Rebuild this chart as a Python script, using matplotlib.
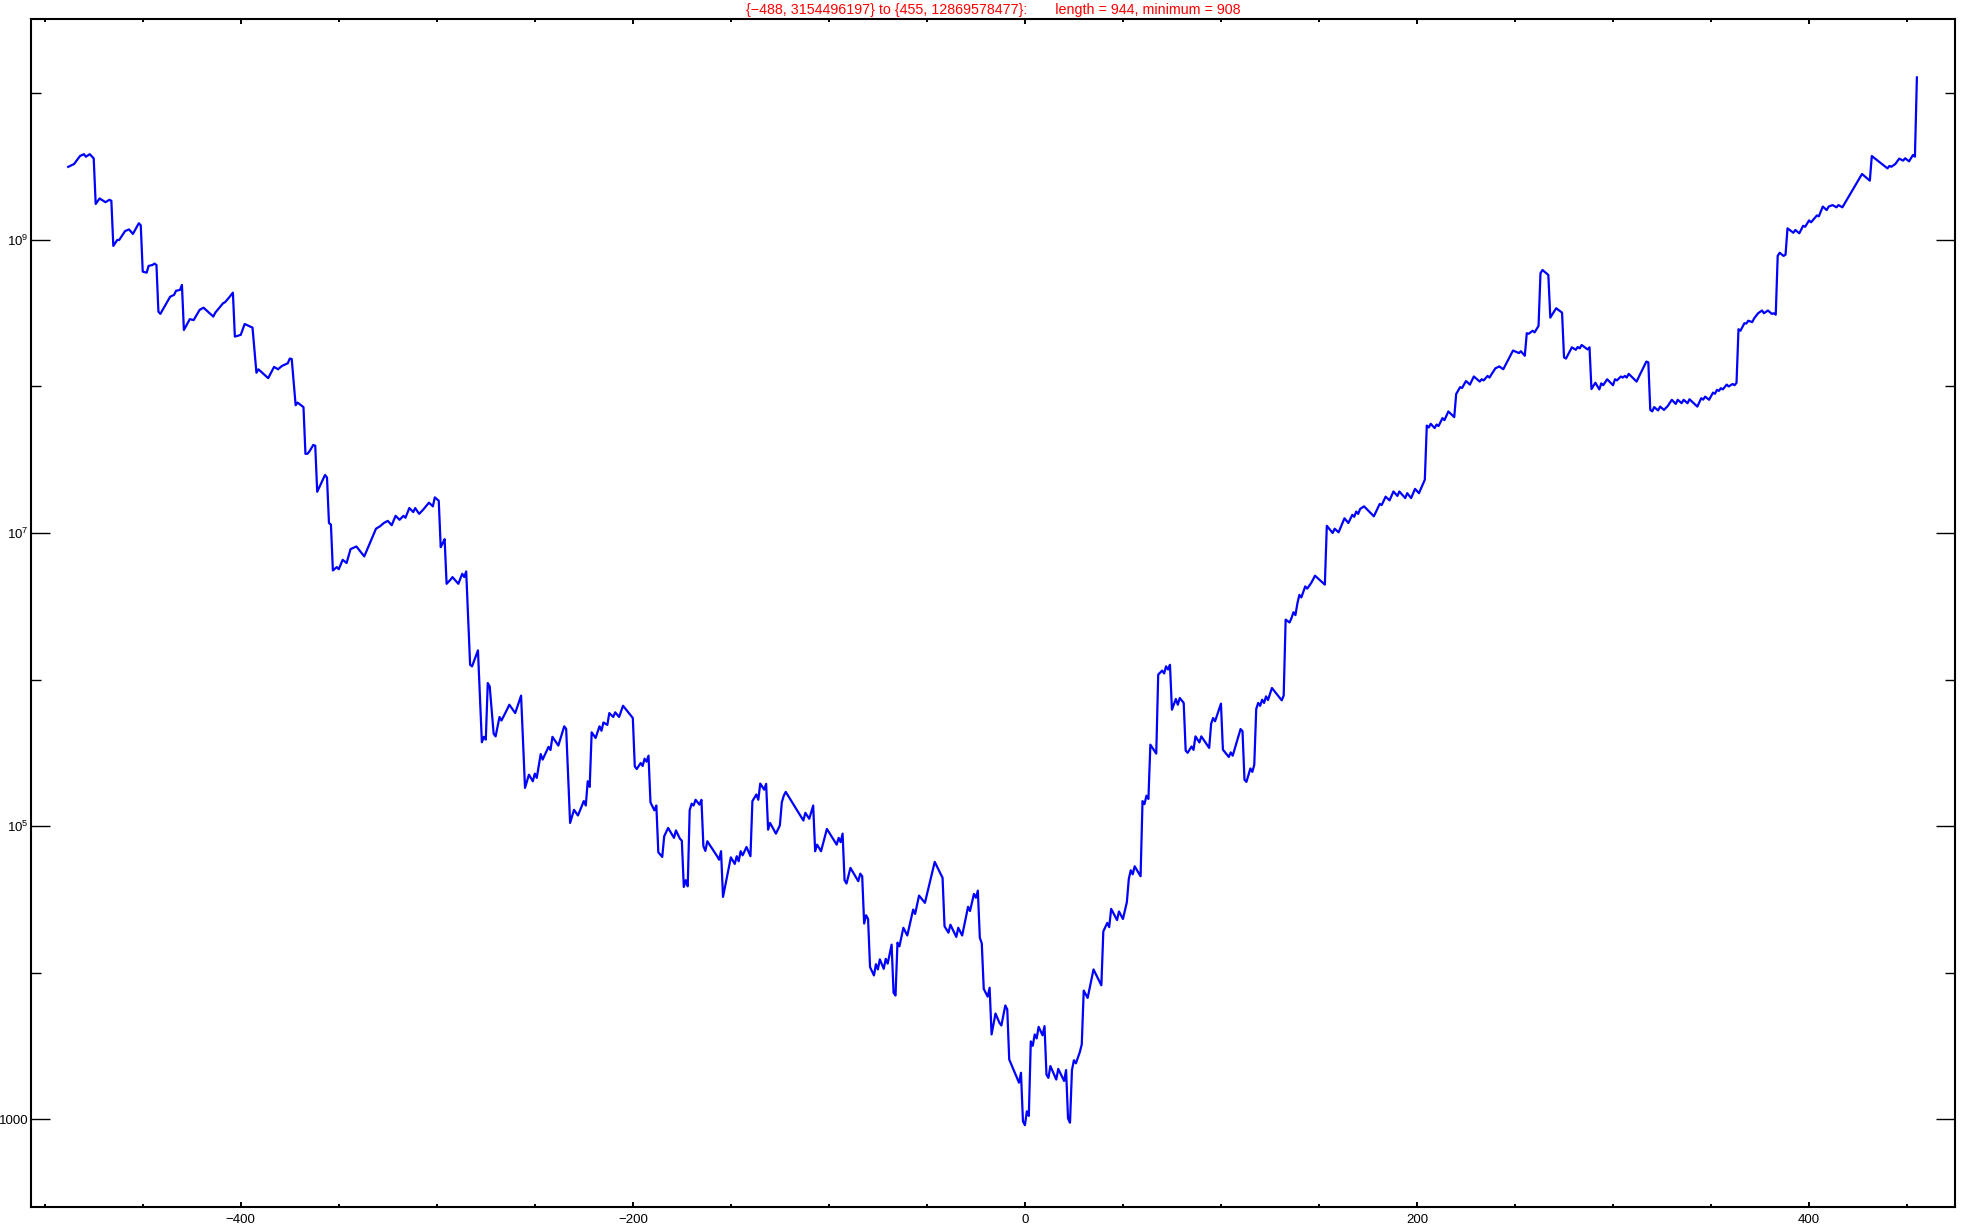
import numpy as np
import matplotlib
matplotlib.use("Agg")
import matplotlib.pyplot as plt
from matplotlib.ticker import FixedLocator, FixedFormatter, NullFormatter

plt.rcParams['font.family'] = ['Liberation Sans', 'DejaVu Sans']
plt.rcParams['mathtext.fontset'] = 'custom'
plt.rcParams['mathtext.rm'] = 'Liberation Sans'
plt.rcParams['mathtext.it'] = 'Liberation Sans:italic'

# vertices of the walk (x, value)
xs = [
    -488, -485, -482, -480, -479, -477, -475, -474, -472, -469,
    -467, -466, -465, -463, -462, -459, -457, -455, -452, -451,
    -450, -448, -447, -445, -444, -443, -442, -441, -436, -434,
    -433, -431, -430, -429, -426, -424, -421, -419, -414, -413,
    -409, -408, -406, -404, -403, -400, -398, -394, -392, -391,
    -386, -383, -381, -379, -376, -375, -374, -372, -371, -368,
    -367, -366, -365, -363, -362, -361, -357, -356, -355, -354,
    -353, -351, -350, -348, -346, -344, -341, -337, -331, -329,
    -327, -325, -323, -321, -319, -317, -316, -314, -312, -311,
    -309, -307, -304, -302, -301, -299, -298, -297, -296, -295,
    -293, -292, -289, -287, -286, -285, -283, -282, -279, -277,
    -276, -275, -274, -273, -271, -270, -268, -267, -264, -263,
    -260, -257, -255, -253, -251, -250, -249, -247, -246, -243,
    -242, -241, -238, -235, -234, -232, -230, -228, -225, -224,
    -223, -222, -221, -219, -217, -216, -215, -213, -212, -210,
    -209, -207, -205, -200, -199, -198, -196, -195, -194, -193,
    -192, -191, -189, -188, -187, -185, -184, -182, -179, -178,
    -176, -175, -174, -173, -172, -171, -170, -169, -168, -166,
    -165, -164, -163, -162, -157, -156, -155, -154, -150, -148,
    -147, -146, -145, -144, -142, -140, -139, -137, -136, -135,
    -133, -132, -131, -130, -127, -125, -124, -123, -122, -113,
    -112, -110, -108, -107, -106, -104, -101, -96, -95, -94,
    -93, -92, -91, -89, -85, -84, -83, -82, -81, -80,
    -79, -77, -76, -75, -74, -72, -71, -70, -68, -67,
    -66, -65, -64, -62, -60, -57, -56, -54, -51, -46,
    -42, -41, -39, -38, -35, -34, -32, -29, -28, -26,
    -25, -24, -23, -22, -21, -19, -18, -17, -15, -13,
    -12, -10, -9, -8, -3, -2, -1, 0, 1, 2,
    3, 4, 5, 6, 7, 9, 10, 11, 12, 13,
    16, 17, 20, 21, 22, 23, 24, 25, 26, 28,
    29, 30, 32, 35, 39, 40, 42, 43, 44, 47,
    48, 50, 52, 53, 54, 55, 56, 59, 60, 61,
    62, 63, 64, 67, 68, 70, 71, 72, 73, 74,
    75, 77, 78, 79, 81, 82, 83, 85, 86, 87,
    89, 90, 94, 95, 96, 97, 100, 101, 104, 105,
    106, 110, 111, 112, 113, 115, 116, 117, 118, 119,
    120, 121, 122, 123, 124, 126, 131, 132, 133, 135,
    136, 137, 138, 139, 140, 141, 143, 144, 146, 148,
    153, 154, 157, 158, 160, 163, 165, 167, 168, 169,
    170, 171, 173, 178, 181, 182, 184, 186, 188, 190,
    191, 194, 195, 197, 199, 201, 204, 205, 206, 207,
    209, 210, 211, 213, 214, 216, 219, 220, 222, 223,
    225, 227, 229, 232, 233, 234, 236, 237, 238, 240,
    242, 244, 249, 252, 253, 255, 256, 257, 259, 260,
    262, 263, 264, 267, 268, 271, 274, 275, 276, 279,
    281, 282, 283, 284, 287, 288, 289, 291, 293, 294,
    295, 297, 300, 301, 302, 304, 305, 306, 307, 308,
    312, 317, 318, 319, 320, 321, 323, 324, 326, 328,
    330, 332, 333, 335, 336, 338, 339, 343, 345, 346,
    347, 349, 351, 352, 353, 354, 355, 356, 358, 359,
    361, 362, 363, 364, 365, 367, 368, 369, 371, 372,
    374, 376, 377, 379, 381, 382, 383, 384, 385, 387,
    388, 389, 392, 393, 395, 397, 398, 400, 401, 404,
    405, 407, 409, 410, 412, 414, 415, 417, 427, 431,
    432, 440, 441, 442, 444, 446, 448, 449, 451, 453,
    454, 455,
]

ys = [
    3.154e9, 3.3e9, 3.74e9, 3.85e9, 3.7e9, 3.85e9, 3.6e9, 1.76e9, 1.92e9, 1.81e9,
    1.88e9, 1.85e9, 9.1e8, 1.0e9, 1.0e9, 1.15e9, 1.18e9, 1.10e9, 1.30e9, 1.26e9,
    6.08e8, 5.98e8, 6.65e8, 6.75e8, 6.9e8, 6.75e8, 3.24e8, 3.13e8, 4.1e8, 4.22e8,
    4.5e8, 4.56e8, 4.93e8, 2.43e8, 2.88e8, 2.84e8, 3.33e8, 3.45e8, 3.0e8, 3.19e8,
    3.7e8, 3.76e8, 4.04e8, 4.37e8, 2.19e8, 2.25e8, 2.67e8, 2.52e8, 1.24e8, 1.31e8,
    1.14e8, 1.36e8, 1.31e8, 1.38e8, 1.44e8, 1.55e8, 1.54e8, 7.45e7, 7.76e7, 7.23e7,
    3.47e7, 3.47e7, 3.6e7, 3.99e7, 3.94e7, 1.91e7, 2.49e7, 2.39e7, 1.17e7, 1.14e7,
    5.55e6, 5.85e6, 5.66e6, 6.56e6, 6.24e6, 7.76e6, 8.09e6, 6.92e6, 1.07e7, 1.11e7,
    1.17e7, 1.21e7, 1.13e7, 1.31e7, 1.23e7, 1.31e7, 1.27e7, 1.48e7, 1.39e7, 1.48e7,
    1.35e7, 1.44e7, 1.61e7, 1.52e7, 1.75e7, 1.66e7, 8.0e6, 8.5e6, 9.08e6, 4.5e6,
    4.8e6, 5.0e6, 4.5e6, 5.27e6, 5.0e6, 5.46e6, 1.26e6, 1.23e6, 1.58e6, 3.73e5,
    4.06e5, 3.89e5, 9.46e5, 8.97e5, 4.27e5, 4.09e5, 5.55e5, 5.25e5, 6.3e5, 6.73e5,
    5.9e5, 7.76e5, 1.82e5, 2.24e5, 2.02e5, 2.28e5, 2.13e5, 3.1e5, 2.84e5, 3.47e5,
    3.3e5, 4.06e5, 3.54e5, 4.79e5, 4.6e5, 1.05e5, 1.29e5, 1.18e5, 1.48e5, 1.38e5,
    2.02e5, 1.85e5, 4.36e5, 3.99e5, 4.79e5, 4.47e5, 5.09e5, 4.9e5, 5.9e5, 5.55e5,
    5.97e5, 5.55e5, 6.62e5, 5.46e5, 2.55e5, 2.45e5, 2.69e5, 2.57e5, 2.88e5, 2.75e5,
    3.02e5, 1.45e5, 1.28e5, 1.38e5, 6.62e4, 6.15e4, 8.51e4, 9.7e4, 8.3e4, 9.33e4,
    8.2e4, 7.94e4, 3.84e4, 4.27e4, 3.88e4, 1.28e5, 1.42e5, 1.38e5, 1.51e5, 1.4e5,
    1.51e5, 7.28e4, 6.76e4, 7.87e4, 6.22e4, 5.89e4, 6.73e4, 3.28e4, 6.11e4, 5.51e4,
    6.22e4, 5.75e4, 6.73e4, 6.31e4, 7.19e4, 6.22e4, 1.48e5, 1.64e5, 1.51e5, 1.95e5,
    1.77e5, 1.94e5, 9.44e4, 1.05e5, 8.87e4, 1.01e5, 1.45e5, 1.61e5, 1.71e5, 1.09e5,
    1.23e5, 1.12e5, 1.38e5, 6.73e4, 7.46e4, 6.73e4, 9.55e4, 7.46e4, 8.3e4, 7.76e4,
    8.87e4, 4.27e4, 4.05e4, 5.18e4, 4.2e4, 4.73e4, 4.54e4, 2.16e4, 2.46e4, 2.32e4,
    1.09e4, 9.55e3, 1.14e4, 1.05e4, 1.23e4, 1.06e4, 1.24e4, 1.15e4, 1.55e4, 7.28e3,
    6.97e3, 1.6e4, 1.51e4, 2.02e4, 1.79e4, 2.69e4, 2.51e4, 3.35e4, 2.99e4, 5.69e4,
    4.43e4, 2.07e4, 1.87e4, 2.12e4, 1.75e4, 2.02e4, 1.79e4, 2.81e4, 2.63e4, 3.44e4,
    3.24e4, 3.62e4, 1.73e4, 1.58e4, 7.74e3, 6.85e3, 7.87e3, 3.78e3, 5.25e3, 4.54e3,
    4.35e3, 5.96e3, 5.6e3, 2.55e3, 1.77e3, 2.07e3, 966, 908, 1.13e3, 1.05e3,
    3.39e3, 3.16e3, 3.78e3, 3.55e3, 4.26e3, 3.73e3, 4.31e3, 2.01e3, 1.91e3, 2.3e3,
    1.86e3, 2.2e3, 1.82e3, 2.16e3, 1.01e3, 944, 2.16e3, 2.52e3, 2.4e3, 2.86e3,
    3.23e3, 7.53e3, 6.71e3, 1.05e4, 8.18e3, 1.91e4, 2.18e4, 2.04e4, 2.72e4, 2.28e4,
    2.61e4, 2.32e4, 3.02e4, 4.36e4, 4.99e4, 4.68e4, 5.31e4, 4.54e4, 1.48e5, 1.41e5,
    1.61e5, 1.53e5, 3.59e5, 3.12e5, 1.08e6, 1.15e6, 1.1e6, 1.23e6, 1.17e6, 1.26e6,
    6.22e5, 7.36e5, 6.73e5, 7.48e5, 6.92e5, 3.27e5, 3.16e5, 3.49e5, 3.31e5, 4.09e5,
    3.72e5, 4.09e5, 3.41e5, 4.99e5, 5.46e5, 5.19e5, 6.84e5, 3.32e5, 2.96e5, 3.18e5,
    3.02e5, 4.59e5, 4.43e5, 2.07e5, 2.0e5, 2.47e5, 2.34e5, 2.62e5, 6.3e5, 6.92e5,
    6.61e5, 7.28e5, 6.92e5, 7.67e5, 7.24e5, 8.75e5, 7.21e5, 7.76e5, 2.56e6, 2.45e6,
    2.63e6, 2.88e6, 2.75e6, 3.31e6, 3.78e6, 3.63e6, 4.32e6, 4.17e6, 4.55e6, 5.11e6,
    4.44e6, 1.12e7, 1.0e7, 1.07e7, 1.01e7, 1.26e7, 1.17e7, 1.33e7, 1.29e7, 1.4e7,
    1.35e7, 1.46e7, 1.52e7, 1.3e7, 1.58e7, 1.55e7, 1.77e7, 1.67e7, 1.92e7, 1.79e7,
    1.92e7, 1.73e7, 1.87e7, 1.73e7, 2.0e7, 1.87e7, 2.31e7, 5.41e7, 5.25e7, 5.56e7,
    5.2e7, 5.5e7, 5.37e7, 6.08e7, 5.89e7, 6.75e7, 6.18e7, 8.89e7, 9.89e7, 9.77e7,
    1.09e8, 1.03e8, 1.17e8, 1.08e8, 1.12e8, 1.1e8, 1.18e8, 1.15e8, 1.21e8, 1.33e8,
    1.37e8, 1.31e8, 1.76e8, 1.69e8, 1.74e8, 1.62e8, 2.31e8, 2.29e8, 2.4e8, 2.34e8,
    2.59e8, 5.93e8, 6.24e8, 5.77e8, 2.95e8, 3.42e8, 3.19e8, 1.58e8, 1.55e8, 1.85e8,
    1.78e8, 1.86e8, 1.82e8, 1.92e8, 1.79e8, 1.85e8, 9.6e7, 1.06e8, 9.55e7, 1.05e8,
    1.02e8, 1.12e8, 1.02e8, 1.12e8, 1.1e8, 1.17e8, 1.15e8, 1.18e8, 1.15e8, 1.22e8,
    1.08e8, 1.48e8, 1.46e8, 6.92e7, 6.76e7, 7.23e7, 6.86e7, 7.29e7, 6.92e7, 7.38e7,
    8.11e7, 7.6e7, 8.11e7, 7.69e7, 8.11e7, 7.69e7, 8.18e7, 7.29e7, 8.32e7, 8.13e7,
    8.53e7, 8.11e7, 9.08e7, 8.91e7, 9.48e7, 9.33e7, 9.73e7, 9.55e7, 1.03e8, 1.0e8,
    1.04e8, 1.02e8, 1.06e8, 2.46e8, 2.4e8, 2.7e8, 2.69e8, 2.81e8, 2.75e8, 2.92e8,
    3.16e8, 3.3e8, 3.16e8, 3.3e8, 3.13e8, 3.16e8, 3.09e8, 7.78e8, 8.18e8, 7.78e8,
    7.94e8, 1.2e9, 1.12e9, 1.17e9, 1.11e9, 1.25e9, 1.23e9, 1.36e9, 1.32e9, 1.47e9,
    1.45e9, 1.69e9, 1.6e9, 1.69e9, 1.73e9, 1.67e9, 1.73e9, 1.67e9, 2.82e9, 2.54e9,
    3.74e9, 3.08e9, 3.2e9, 3.16e9, 3.3e9, 3.59e9, 3.48e9, 3.61e9, 3.44e9, 3.8e9,
    3.7e9, 1.287e10,
]
assert len(xs) == len(ys)

title = ("{\u2212488, 3154496197} to {455, 12869578477}:       "
         "length = 944, minimum = 908")

y_major = [1e3, 1e5, 1e7, 1e9]
y_major_labels = ["1000", r"$10^{5}$", r"$10^{7}$", r"$10^{9}$"]
y_minor = [1e4, 1e6, 1e8, 1e10]
x_major = [-400, -200, 0, 200, 400]
x_minor = list(range(-500, 451, 50))

fig = plt.figure(figsize=(19.61, 12.28), dpi=100)
ax = fig.add_axes([0.0158, 0.0171, 0.9812, 0.9674])

ax.plot(xs, ys, color='#0000ff', lw=1.6)
ax.set_yscale('log')
ax.set_xlim(-507, 474.5)
ax.set_ylim(251, 3.22e10)

ax.yaxis.set_major_locator(FixedLocator(y_major))
ax.yaxis.set_major_formatter(FixedFormatter(y_major_labels))
ax.yaxis.set_minor_locator(FixedLocator(y_minor))
ax.yaxis.set_minor_formatter(NullFormatter())
ax.xaxis.set_major_locator(FixedLocator(x_major))
ax.xaxis.set_major_formatter(FixedFormatter(["\u2212400", "\u2212200", "0", "200", "400"]))
ax.xaxis.set_minor_locator(FixedLocator(x_minor))

ax.tick_params(which='both', direction='in', top=True, right=True,
               labelsize=9.5, color='black')
ax.tick_params(axis='y', which='major', length=13.5, width=1, pad=2)
ax.tick_params(axis='y', which='minor', length=7, width=1)
ax.tick_params(axis='x', which='major', length=3.5, width=1.4, pad=5)
ax.tick_params(axis='x', which='minor', length=2, width=1.4)

for s in ax.spines.values():
    s.set_linewidth(1.5)

ax.set_title(title, color='red', fontsize=10.3, pad=3.8,
             family=['Liberation Sans Narrow', 'Liberation Sans'])

fig.savefig('out.png', dpi=100)
